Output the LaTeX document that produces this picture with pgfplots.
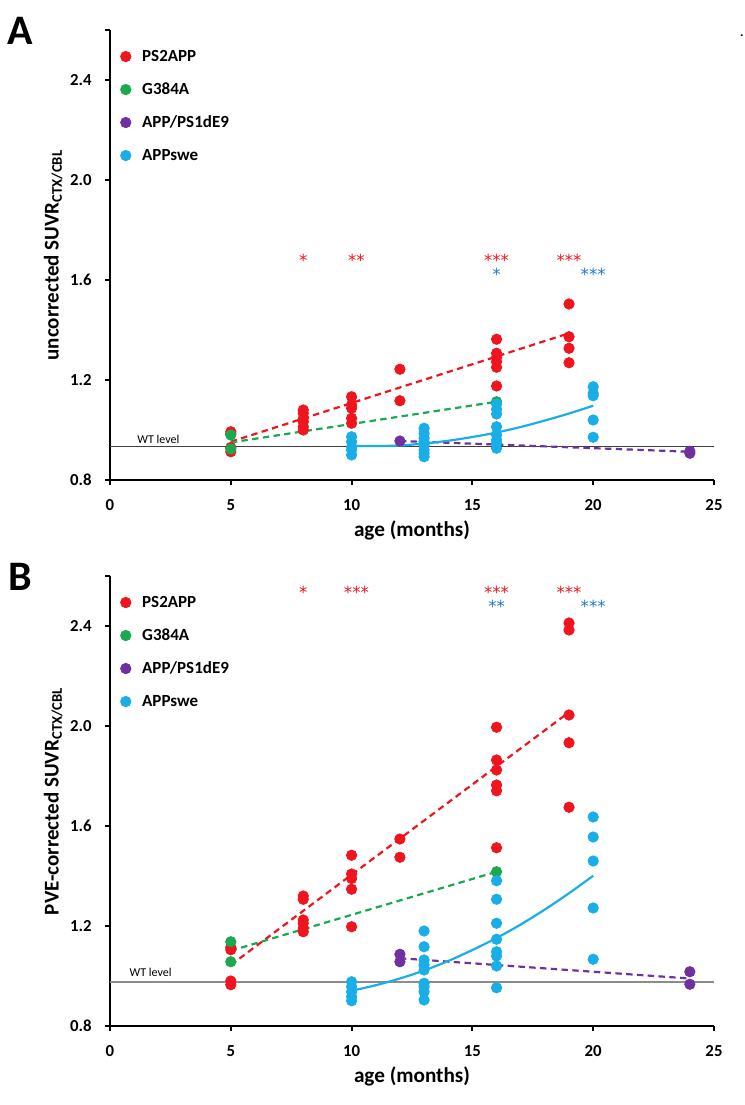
\documentclass[border=0pt]{standalone}
\usepackage{pgfplots}
\pgfplotsset{compat=1.18}
\usepackage{fontspec}
\setmainfont{Carlito}
\newfontfamily\starfont{DejaVu Sans}
\definecolor{cred}{HTML}{F0141E}
\definecolor{cgreen}{HTML}{1BA84E}
\definecolor{cpurple}{HTML}{7030A0}
\definecolor{cblue}{HTML}{1AAEE8}
\definecolor{cstar}{HTML}{1F78C8}
\tikzset{stars/.style={font=\starfont\fontsize{8.3}{10}\selectfont, anchor=center, inner sep=0pt}}
\pgfplotsset{
 panel/.style={
  scale only axis, width=302pt, height=225pt,
  xmin=0, xmax=25, ymin=0.8, ymax=2.6,
  axis lines*=left, axis line style={line width=1.1pt},
  xtick={0,5,10,15,20,25},
  ytick={0.8,1.2,1.6,2.0,2.4,2.6}, yticklabels={0.8,1.2,1.6,2.0,2.4,{}},
  tick align=outside, major tick length=2.6pt, tick style={line width=1pt, black},
  /pgf/number format/assume math mode=true,
  ticklabel style={font=\bfseries\fontsize{8.4}{10}\selectfont},
  yticklabel style={xshift=-3pt},
  xticklabel style={yshift=-3.6pt},
  xlabel style={font=\bfseries\fontsize{10.6}{12}\selectfont, at={(axis description cs:0.5,-0.113)}, anchor=center},
  ylabel style={font=\bfseries\fontsize{10.5}{12}\selectfont, at={(axis description cs:-0.094,0.5)}, anchor=center},
  legend style={draw=none, fill=none, at={(axis description cs:0.0149,0.963)}, anchor=north west,
    font=\bfseries\fontsize{8.5}{10}\selectfont, row sep=7pt, inner sep=0pt,
    nodes={inner sep=1pt, text height=6pt, text depth=1.5pt}},
  legend cell align=left,
  clip=false,
 },
 pts/.style={only marks, mark=*, mark size=2.6pt, color=#1, mark options={draw=#1, fill=#1},
   legend image code/.code={\path (0pt,0pt) (10pt,0pt); \draw[mark repeat=2,mark phase=2,##1] plot coordinates {(0pt,0pt) (3pt,0pt) (6pt,0pt)};}},
 trend/.style={forget plot, color=#1, line width=1.1pt, dash pattern=on 3.2pt off 2.2pt},
}
\begin{document}
\begin{tikzpicture}
\useasboundingbox (0,0) rectangle (372.5pt,552.5pt);
\node[font=\bfseries\fontsize{21}{24}\selectfont, anchor=center] at (10pt,537pt) {A};
\node[font=\bfseries\fontsize{21}{24}\selectfont, anchor=center] at (10pt,264pt) {B};
\node[font=\fontsize{8}{9}\selectfont, anchor=base] at (371pt,534pt) {.};
% ---------------- Panel A
\begin{axis}[panel, at={(55pt,312.5pt)}, anchor=south west,
  xlabel={age (months)}, ylabel={uncorrected SUVR\textsubscript{CTX/CBL}}]
\addplot[pts=cred] table {
5 0.993
5 0.985
5 0.93
5 0.913
8 1.08
8 1.067
8 1.045
8 1.033
8 1.013
8 1.0
10 1.133
10 1.10
10 1.087
10 1.047
10 1.027
12 1.243
12 1.117
16 1.363
16 1.307
16 1.29
16 1.273
16 1.251
16 1.176
19 1.504
19 1.373
19 1.327
19 1.269
};
\addlegendentry{PS2APP}
\addplot[pts=cgreen] table {
5 0.98
5 0.924
16 1.113
};
\addlegendentry{G384A}
\addplot[pts=cpurple] table {
12 0.956
24 0.915
24 0.907
};
\addlegendentry{APP/PS1dE9}
\addplot[pts=cblue] table {
10 0.973
10 0.953
10 0.933
10 0.92
10 0.90
13 1.007
13 0.987
13 0.967
13 0.953
13 0.94
13 0.92
13 0.907
13 0.893
16 1.104
16 1.083
16 1.064
16 1.013
16 0.98
16 0.96
16 0.947
16 0.927
20 1.173
20 1.147
20 1.137
20 1.04
20 0.971
};
\addlegendentry{APPswe}
\addplot[forget plot, color=black!75, line width=0.5pt] coordinates {(0,0.934) (25,0.934)};
\addplot[trend=cred] coordinates {(5,0.953) (19,1.387)};
\addplot[trend=cgreen] coordinates {(5,0.950) (16,1.113)};
\addplot[trend=cpurple] coordinates {(12,0.956) (24,0.913)};
\addplot[forget plot, color=cblue, line width=1.1pt, smooth] coordinates {
(10,0.936) (11,0.936) (12,0.938) (13,0.946) (14,0.957) (15,0.972) (16,0.990) (17,1.012) (18,1.038) (19,1.066) (20,1.097)};
\node[font=\fontsize{6}{7}\selectfont, anchor=base west, inner sep=0pt] at (axis cs:1.12,0.945) {WT level};
\node[stars, cred] at (axis cs:8,1.678) {*};
\node[stars, cred] at (axis cs:10.2,1.678) {**};
\node[stars, cred] at (axis cs:16,1.678) {***};
\node[stars, cred] at (axis cs:19,1.678) {***};
\node[stars, cstar] at (axis cs:16,1.622) {*};
\node[stars, cstar] at (axis cs:20,1.622) {***};
\end{axis}
% ---------------- Panel B
\begin{axis}[panel, at={(55pt,39.5pt)}, anchor=south west,
  xlabel={age (months)}, ylabel={PVE-corrected SUVR\textsubscript{CTX/CBL}}]
\addplot[pts=cred] table {
5 1.115
5 1.105
5 0.98
5 0.965
8 1.32
8 1.307
8 1.224
8 1.211
8 1.191
8 1.177
10 1.483
10 1.408
10 1.39
10 1.347
10 1.197
12 1.548
12 1.475
16 1.995
16 1.864
16 1.824
16 1.764
16 1.741
16 1.513
19 2.412
19 2.384
19 2.044
19 1.933
19 1.675
};
\addlegendentry{PS2APP}
\addplot[pts=cgreen] table {
5 1.137
5 1.057
16 1.417
};
\addlegendentry{G384A}
\addplot[pts=cpurple] table {
12 1.087
12 1.057
24 1.017
24 0.967
};
\addlegendentry{APP/PS1dE9}
\addplot[pts=cblue] table {
10 0.977
10 0.957
10 0.937
10 0.917
10 0.901
13 1.18
13 1.117
13 1.064
13 1.044
13 1.024
13 0.971
13 0.957
13 0.937
13 0.904
16 1.381
16 1.307
16 1.211
16 1.147
16 1.097
16 1.08
16 1.04
16 0.953
20 1.636
20 1.556
20 1.46
20 1.272
20 1.067
};
\addlegendentry{APPswe}
\addplot[forget plot, color=black!45, line width=0.6pt] coordinates {(0,0.976) (25,0.976)};
\addplot[trend=cred] coordinates {(5,1.044) (19,2.055)};
\addplot[trend=cgreen] coordinates {(5,1.101) (16,1.417)};
\addplot[trend=cpurple] coordinates {(12,1.071) (24,0.990)};
\addplot[forget plot, color=cblue, line width=1.1pt, smooth] coordinates {
(10,0.941) (11,0.963) (12,0.990) (13,1.022) (14,1.060) (15,1.104) (16,1.152) (17,1.206) (18,1.266) (19,1.331) (20,1.401)};
\node[font=\fontsize{6}{7}\selectfont, anchor=base west, inner sep=0pt] at (axis cs:0.8,0.996) {WT level};
\node[stars, cred] at (axis cs:8,2.536) {*};
\node[stars, cred] at (axis cs:10.2,2.536) {***};
\node[stars, cred] at (axis cs:16,2.536) {***};
\node[stars, cred] at (axis cs:19,2.536) {***};
\node[stars, cstar] at (axis cs:16,2.479) {**};
\node[stars, cstar] at (axis cs:20,2.479) {***};
\end{axis}
\end{tikzpicture}
\end{document}
